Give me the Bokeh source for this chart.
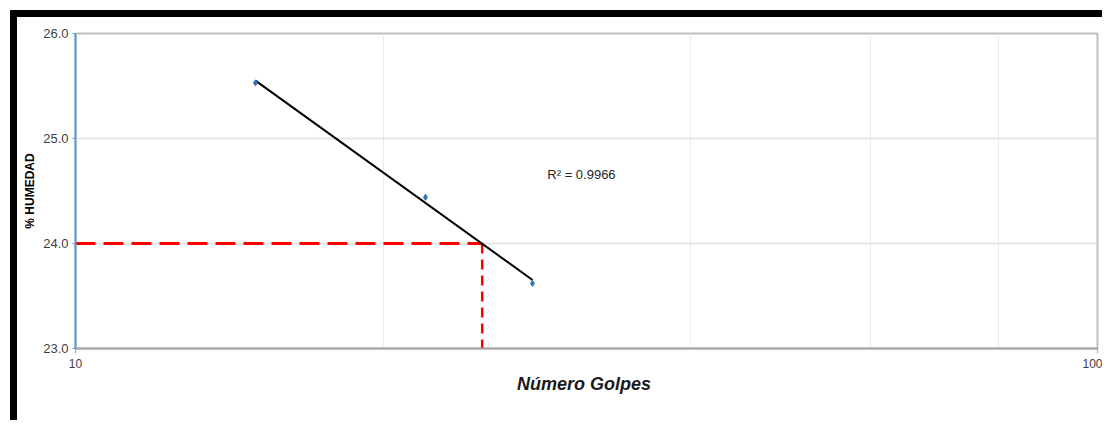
import numpy as np
from bokeh.plotting import figure
from bokeh.models import FixedTicker, Label, CustomJSTickFormatter, NumeralTickFormatter
from bokeh.embed import file_html
from bokeh.resources import INLINE

# data
golpes = [15, 22, 28]
humedad = [25.53, 24.44, 23.62]
golpes_ref = 25
humedad_ref = 24.0
r2_text = "R² = 0.9966"
y_ticks = [23.0, 24.0, 25.0, 26.0]
x_ticks = [10, 100]
x_grid = [20, 40, 60, 80]

p = figure(width=1092, height=410, x_axis_type="log", x_range=(10, 100), y_range=(23, 26),
           output_backend="svg", toolbar_location=None,
           min_border_left=58, min_border_right=12, min_border_top=16, min_border_bottom=79)
p.styles = {"border-top": "7px solid black", "border-left": "7px solid black",
            "margin-left": "10px", "margin-top": "10px"}
p.background_fill_color = "white"
p.border_fill_color = "white"
p.outline_line_color = "#BFBFBF"
p.outline_line_width = 2

# grids
p.xgrid.ticker = FixedTicker(ticks=x_grid)
p.xgrid.grid_line_color = "#EBEBEB"
p.xgrid.grid_line_width = 1
p.ygrid.ticker = FixedTicker(ticks=y_ticks)
p.ygrid.grid_line_color = "#E6E6E6"
p.ygrid.grid_line_width = 2

# y axis
ya = p.yaxis[0]
ya.ticker = FixedTicker(ticks=y_ticks)
ya.formatter = NumeralTickFormatter(format="0.0")
ya.axis_line_color = "#5B9BD5"
ya.axis_line_width = 2
ya.major_tick_line_color = "#5B9BD5"
ya.major_tick_out = 3
ya.major_tick_in = 0
ya.minor_tick_line_color = None
ya.major_label_text_font = "Liberation Sans"
ya.major_label_text_font_size = "13px"
ya.major_label_text_color = "#404040"
ya.major_label_standoff = 4
ya.axis_label = "% HUMEDAD"
ya.axis_label_text_font = "Liberation Sans"
ya.axis_label_text_font_style = "bold"
ya.axis_label_text_font_size = "12px"
ya.axis_label_text_color = "#000000"
ya.axis_label_standoff = 3

# x axis
xa = p.xaxis[0]
xa.ticker = FixedTicker(ticks=x_ticks)
xa.formatter = CustomJSTickFormatter(code="return tick.toFixed(0);")
xa.axis_line_color = "#A6A6A6"
xa.axis_line_width = 2
xa.major_tick_line_color = "#A6A6A6"
xa.major_tick_out = 5
xa.major_tick_in = 0
xa.minor_tick_line_color = None
xa.major_label_text_font = "Liberation Sans"
xa.major_label_text_font_size = "12px"
xa.major_label_text_color = "#404040"
xa.major_label_standoff = 5
xa.axis_label = "Número  Golpes"
xa.axis_label_text_font = "Liberation Sans"
xa.axis_label_text_font_style = "bold italic"
xa.axis_label_text_font_size = "18px"
xa.axis_label_text_color = "#1A1A1A"
xa.axis_label_standoff = 3

# reference dashed lines
p.line([10, golpes_ref], [humedad_ref, humedad_ref], line_color="#FF0000", line_width=3, line_dash="20 8")
p.line([golpes_ref, golpes_ref], [humedad_ref, 23], line_color="#FF0000", line_width=2.5, line_dash="10 6")

# logarithmic trend line fitted to the points
lx = np.log10(golpes)
m, b = np.polyfit(lx, humedad, 1)
tx = np.array([min(golpes), max(golpes)])
p.line(tx, m * np.log10(tx) + b, line_color="black", line_width=2)

# points
p.scatter(golpes, humedad, marker="diamond", size=6, color="#2E75B6")

p.add_layout(Label(x=28.95, y=24.66, text=r2_text, text_font="Liberation Sans",
                   text_font_size="13px", text_color="#262626",
                   text_baseline="middle", text_align="left"))

open("out.html", "w").write(file_html(p, INLINE))
